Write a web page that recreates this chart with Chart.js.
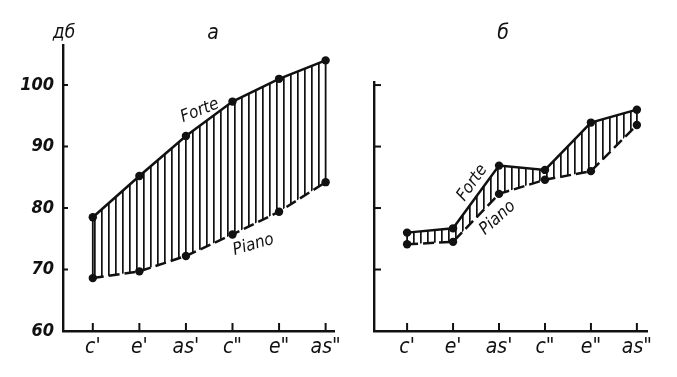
<!DOCTYPE html>
<html>
<head>
<meta charset="utf-8">
<script src="https://cdn.jsdelivr.net/npm/chart.js@4.4.1/dist/chart.umd.min.js"></script>
<style>
  html, body { margin: 0; padding: 0; background: #fff; }
  #wrap { position: relative; width: 677px; height: 377px; background: #fff; }
  #ca { position: absolute; left: 0; top: 0; }
  #cb { position: absolute; left: 340px; top: 0; }
</style>
</head>
<body>
<div id="wrap">
  <canvas id="ca" width="345" height="377"></canvas>
  <canvas id="cb" width="337" height="377"></canvas>
</div>
<script>
// ---- data ----
const categories = ["c'", "e'", "as'", "c\"", "e\"", "as\""];
const forteA = [78.5, 85.2, 91.7, 97.3, 101.0, 104.0];
const pianoA = [68.6, 69.7, 72.2, 75.7, 79.4, 84.2];
const forteB = [76.0, 76.7, 86.9, 86.2, 93.9, 96.0];
const pianoB = [74.1, 74.5, 82.3, 84.6, 86.0, 93.5];
const yTicksA = [60, 70, 80, 90, 100];
const yTicksB = [70, 80, 90, 100];
const unitLabel = "дб";
const titleA = "а";
const titleB = "б";
const forteName = "Forte";
const pianoName = "Piano";

const FONT = '"Liberation Sans Narrow", "DejaVu Sans Condensed", "Liberation Sans", sans-serif';

function hatch() {
  const c = document.createElement('canvas');
  c.width = 7; c.height = 4;
  const g = c.getContext('2d');
  g.fillStyle = '#111';
  g.fillRect(3, 0, 1.7, 4);
  return g.createPattern(c, 'repeat');
}

function toPts(arr) { return arr.map((v, i) => ({ x: i, y: v })); }

const annot = {
  id: 'annot',
  beforeDatasetsDraw(chart) {
    // vertical closing strokes at both ends of the hatched band
    const ctx = chart.ctx;
    const m0 = chart.getDatasetMeta(0).data, m1 = chart.getDatasetMeta(1).data;
    ctx.save();
    ctx.strokeStyle = '#111';
    ctx.lineWidth = 1.8;
    [0, m0.length - 1].forEach(i => {
      ctx.beginPath(); ctx.moveTo(m0[i].x, m0[i].y); ctx.lineTo(m1[i].x, m1[i].y); ctx.stroke();
    });
    ctx.restore();
  },
  afterDraw(chart, args, opts) {
    const ctx = chart.ctx;
    const xs = chart.scales.x, ys = chart.scales.y;
    const area = chart.chartArea;
    ctx.save();
    ctx.fillStyle = '#111';
    ctx.strokeStyle = '#111';
    // inward tick marks
    ctx.lineWidth = 2;
    xs.ticks.forEach((t, i) => {
      const px = xs.getPixelForTick(i);
      ctx.beginPath(); ctx.moveTo(px, area.bottom); ctx.lineTo(px, area.bottom - 8); ctx.stroke();
    });
    ys.ticks.forEach((t, i) => {
      const py = ys.getPixelForTick(i);
      ctx.beginPath(); ctx.moveTo(area.left, py); ctx.lineTo(area.left + opts.yTick, py); ctx.stroke();
    });
    // texts
    (opts.texts || []).forEach(t => {
      const px = t.px !== undefined ? t.px : xs.getPixelForValue(t.x);
      const py = t.py !== undefined ? t.py : ys.getPixelForValue(t.y);
      ctx.save();
      ctx.translate(px, py);
      ctx.rotate((t.rot || 0) * Math.PI / 180);
      ctx.font = t.font;
      ctx.textAlign = 'center';
      ctx.textBaseline = 'middle';
      ctx.fillText(t.text, 0, 0);
      ctx.restore();
    });
    ctx.restore();
  }
};

function makeChart(id, forte, piano, yTicks, cfg) {
  return new Chart(document.getElementById(id), {
    type: 'line',
    data: {
      datasets: [
        {
          label: forteName, data: toPts(forte),
          borderColor: '#111', borderWidth: 2.5, tension: 0,
          pointRadius: 4.2, pointBackgroundColor: '#111', pointBorderWidth: 0,
          fill: '+1', backgroundColor: hatch()
        },
        {
          label: pianoName, data: toPts(piano),
          borderColor: '#111', borderWidth: 2.5, borderDash: [11, 5], tension: 0,
          pointRadius: 4.2, pointBackgroundColor: '#111', pointBorderWidth: 0,
          fill: false
        }
      ]
    },
    options: {
      responsive: false, animation: false,
      layout: { padding: cfg.padding },
      plugins: { legend: { display: false }, tooltip: { enabled: false }, annot: cfg.annot },
      scales: {
        x: {
          type: 'linear', min: cfg.xmin, max: cfg.xmax,
          afterBuildTicks: s => { s.ticks = categories.map((c, i) => ({ value: i })); },
          afterFit: s => { s.height = 46; },
          grid: { display: false, drawTicks: false },
          border: { display: true, color: '#111', width: 2.4 },
          ticks: {
            padding: 4, maxRotation: 0, autoSkip: false, color: '#111',
            font: { family: FONT, size: 21, style: 'italic' },
            callback: v => categories[v]
          }
        },
        y: {
          type: 'linear', min: 60, max: cfg.ymax,
          afterBuildTicks: s => { s.ticks = yTicks.map(v => ({ value: v })); },
          afterFit: s => { s.width = cfg.yWidth; },
          grid: { display: false, drawTicks: false },
          border: { display: true, color: '#111', width: 2.4 },
          ticks: {
            display: cfg.yLabels, padding: 9, color: '#111',
            font: { family: FONT, size: 18, style: 'italic', weight: 'bold' }
          }
        }
      }
    },
    plugins: [annot]
  });
}

makeChart('ca', forteA, pianoA, yTicksA, {
  padding: { left: 0, top: 45, right: 10, bottom: 0 },
  yWidth: 63, ymax: 106.5, xmin: -0.64, xmax: 5.19, yLabels: true,
  annot: {
    yTick: 5,
    texts: [
      { text: unitLabel, px: 64, py: 33, font: 'italic 19px ' + FONT, rot: 0 },
      { text: titleA, px: 213, py: 34, font: 'italic 21px ' + FONT, rot: 0 },
      { text: forteName, x: 2.3, y: 95.8, font: 'italic 17px ' + FONT, rot: -22 },
      { text: pianoName, x: 3.45, y: 74.0, font: 'italic 17px ' + FONT, rot: -16 }
    ]
  }
});

makeChart('cb', forteB, pianoB, yTicksB, {
  padding: { left: 0, top: 82, right: 30, bottom: 0 },
  yWidth: 34, ymax: 100.5, xmin: -0.72, xmax: 5.22, yLabels: false,
  annot: {
    yTick: 7,
    texts: [
      { text: titleB, px: 163, py: 34, font: 'italic 21px ' + FONT, rot: 0 },
      { text: forteName, x: 1.42, y: 84.1, font: 'italic 17px ' + FONT, rot: -55 },
      { text: pianoName, x: 1.97, y: 78.4, font: 'italic 17px ' + FONT, rot: -42 }
    ]
  }
});
</script>
</body>
</html>
